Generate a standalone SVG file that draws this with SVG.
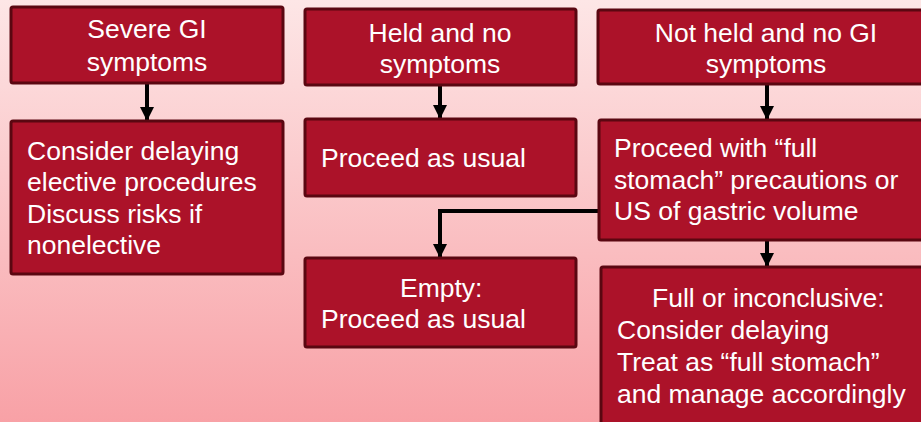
<svg xmlns="http://www.w3.org/2000/svg" width="921" height="422" viewBox="0 0 921 422">
<defs>
<linearGradient id="bg" x1="0" y1="0" x2="0" y2="1">
<stop offset="0" stop-color="#fde6e6"/>
<stop offset="1" stop-color="#f8a1a6"/>
</linearGradient>
<marker id="ah" markerUnits="userSpaceOnUse" markerWidth="16" markerHeight="14" refX="16" refY="8" orient="auto" viewBox="0 0 16 16">
<path d="M0,0 L16,8 L0,16 Z" fill="#000"/>
</marker>
<style>
.box{fill:#ac1229;stroke:#5a0711;stroke-width:3}
.t{font-family:"Liberation Sans",Arial,sans-serif;font-size:26.5px;fill:#fff}
.c{text-anchor:middle}
.cn{fill:none;stroke:#000;stroke-width:4}
</style>
</defs>
<rect width="921" height="422" fill="url(#bg)"/>
<g id="connectors">
<path class="cn" d="M147,83 V121" marker-end="url(#ah)"/>
<path class="cn" d="M440,85 V119" marker-end="url(#ah)"/>
<path class="cn" d="M767,84 V120" marker-end="url(#ah)"/>
<path class="cn" d="M598,211 H440 V258" marker-end="url(#ah)"/>
<path class="cn" d="M767,240 V267" marker-end="url(#ah)"/>
</g>
<g id="severe">
<rect class="box" x="11" y="7" width="272" height="76" rx="2"/>
<text class="t c" x="147" y="38">Severe GI</text>
<text class="t c" x="147" y="71">symptoms</text>
</g>
<g id="consider">
<rect class="box" x="11" y="121" width="272" height="153" rx="2"/>
<text class="t" x="27" y="160">Consider delaying</text>
<text class="t" x="27" y="191">elective procedures</text>
<text class="t" x="27" y="223">Discuss risks if</text>
<text class="t" x="27" y="254">nonelective</text>
</g>
<g id="held">
<rect class="box" x="305" y="9" width="271" height="76" rx="2"/>
<text class="t c" x="440" y="42">Held and no</text>
<text class="t c" x="440" y="73">symptoms</text>
</g>
<g id="proceed-usual">
<rect class="box" x="305" y="119" width="271" height="77" rx="2"/>
<text class="t" x="321" y="167">Proceed as usual</text>
</g>
<g id="empty">
<rect class="box" x="305" y="258" width="271" height="89" rx="2"/>
<text class="t" x="400" y="297">Empty:</text>
<text class="t" x="321" y="328">Proceed as usual</text>
</g>
<g id="not-held">
<rect class="box" x="598" y="10" width="330" height="74" rx="2"/>
<text class="t c" x="766" y="42">Not held and no GI</text>
<text class="t c" x="766" y="73">symptoms</text>
</g>
<g id="full-stomach">
<rect class="box" x="599" y="120" width="330" height="120" rx="2"/>
<text class="t" x="614" y="157">Proceed with “full</text>
<text class="t" x="614" y="189">stomach” precautions or</text>
<text class="t" x="614" y="220">US of gastric volume</text>
</g>
<g id="full-inconclusive">
<rect class="box" x="601" y="267" width="330" height="170" rx="2"/>
<text class="t" x="652" y="307">Full or inconclusive:</text>
<text class="t" x="617" y="339">Consider delaying</text>
<text class="t" x="617" y="371">Treat as “full stomach”</text>
<text class="t" x="617" y="403">and manage accordingly</text>
</g>
</svg>
